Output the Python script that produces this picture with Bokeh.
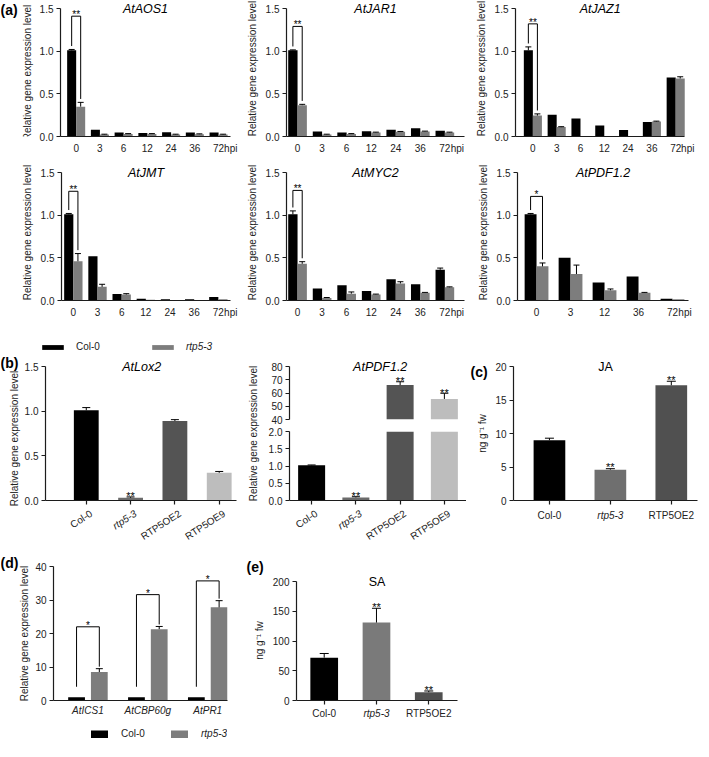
import math
import numpy as np
from bokeh.plotting import figure
from bokeh.layouts import row, column
from bokeh.models import (Range1d, FixedTicker, PrintfTickFormatter, Label, LabelSet,
                          ColumnDataSource, Whisker, TeeHead, Legend, LegendItem)
from bokeh.core.properties import value, field
from bokeh.embed import file_html
from bokeh.resources import INLINE

FONT = "Liberation Sans"
INK = "#1c1c1c"
TXT = "#222222"
BLACK = "#000000"
GRAY_A = "#7d7d7d"

# ---------------- data ----------------
hpi7 = ["0", "3", "6", "12", "24", "36", "72"]
hpi5 = ["0", "3", "12", "36", "72"]

aos1_col = [1.01, 0.078, 0.047, 0.040, 0.050, 0.047, 0.047]
aos1_rtp = [0.35, 0.023, 0.030, 0.030, 0.023, 0.027, 0.023]
aos1_col_err = [0.01, 0, 0, 0, 0, 0, 0]
aos1_rtp_err = [0.05, 0.004, 0.004, 0.004, 0.004, 0.004, 0.004]

jar1_col = [1.01, 0.059, 0.047, 0.062, 0.078, 0.098, 0.066]
jar1_rtp = [0.367, 0.023, 0.030, 0.047, 0.055, 0.059, 0.047]
jar1_col_err = [0.005, 0, 0, 0, 0, 0, 0]
jar1_rtp_err = [0.01, 0.004, 0.004, 0.004, 0.004, 0.004, 0.004]

jaz1_col = [1.01, 0.255, 0.21, 0.13, 0.075, 0.17, 0.69]
jaz1_rtp = [0.245, 0.11, 0.0, 0.0, 0.0, 0.175, 0.68]
jaz1_col_err = [0.04, 0, 0, 0, 0, 0, 0]
jaz1_rtp_err = [0.02, 0.005, 0, 0, 0, 0.005, 0.02]

jmt_col = [1.01, 0.52, 0.075, 0.02, 0.015, 0.015, 0.04]
jmt_rtp = [0.46, 0.16, 0.07, 0.01, 0.005, 0.005, 0.015]
jmt_col_err = [0.01, 0, 0, 0, 0, 0, 0]
jmt_rtp_err = [0.09, 0.03, 0.01, 0, 0, 0, 0]

myc2_col = [1.01, 0.14, 0.18, 0.11, 0.25, 0.19, 0.36]
myc2_rtp = [0.43, 0.03, 0.08, 0.07, 0.20, 0.09, 0.155]
myc2_col_err = [0.04, 0, 0, 0, 0, 0, 0.02]
myc2_rtp_err = [0.025, 0.005, 0.02, 0.005, 0.02, 0.005, 0.005]

pdfa_col = [1.01, 0.50, 0.21, 0.28, 0.02]
pdfa_rtp = [0.40, 0.31, 0.12, 0.09, 0.015]
pdfa_col_err = [0.01, 0, 0, 0, 0]
pdfa_rtp_err = [0.04, 0.105, 0.015, 0.005, 0]

geno4 = ["Col-0", "rtp5-3", "RTP5OE2", "RTP5OE9"]
geno4_style = ["normal", "italic", "normal", "normal"]
geno4_colors = ["#000000", "#6b6b6b", "#545454", "#bdbdbd"]
lox2_vals = [1.01, 0.03, 0.89, 0.31]
lox2_err = [0.03, 0.01, 0.015, 0.015]
lox2_sig = ["", "**", "", ""]
pdfb_vals = [1.02, 0.09, 66.0, 55.5]
pdfb_err = [0.01, 0.02, 2.5, 4.3]
pdfb_sig = ["", "**", "**", "**"]

geno3 = ["Col-0", "rtp5-3", "RTP5OE2"]
geno3_style = ["normal", "italic", "normal"]
ja_colors = ["#000000", "#6f6f6f", "#505050"]
ja_vals = [9.0, 4.6, 17.2]
ja_err = [0.3, 0.15, 0.6]
ja_sig = ["", "**", "**"]

sa_genes = ["AtICS1", "AtCBP60g", "AtPR1"]
sa_col = [1.0, 1.0, 1.0]
sa_rtp = [8.5, 21.3, 27.8]
sa_col_err = [0.1, 0.1, 0.1]
sa_rtp_err = [1.0, 0.8, 2.0]
sa_bracket = [22.0, 31.6, 35.7]

sa_colors = ["#000000", "#7a7a7a", "#505050"]
sa_vals = [72.0, 131.0, 14.0]
sa_err = [7.0, 24.0, 2.0]
sa_sig = ["", "**", "**"]

YLAB = "Relative gene expression level"
NGLAB = "ng g\u207b\u00b9 fw"
EXT = 8  # px of frame kept above the top tick for the panel titles


# ---------------- helpers ----------------
def base_fig(w, h, xr, yr, bl, br, bt, bb, x_axis=True):
    kw = {}
    if not x_axis:
        kw["x_axis_location"] = None
    xr_obj = xr if isinstance(xr, Range1d) else Range1d(*xr)
    p = figure(width=w, height=h, x_range=xr_obj, y_range=Range1d(*yr),
               output_backend="svg", toolbar_location=None, tools="",
               min_border_left=bl, min_border_right=br, min_border_top=bt,
               min_border_bottom=bb, **kw)
    p.outline_line_color = None
    p.grid.visible = False
    for ax in p.axis:
        ax.axis_line_color = INK
        ax.axis_line_width = 1.2
        ax.major_tick_line_color = INK
        ax.major_tick_line_width = 1.2
        ax.minor_tick_line_color = None
        ax.major_tick_in = 0
        ax.major_tick_out = 4
        ax.major_label_standoff = 3
        ax.major_label_text_font = FONT
        ax.major_label_text_font_size = "10px"
        ax.major_label_text_color = TXT
        ax.axis_label_text_font = FONT
        ax.axis_label_text_font_size = "10px"
        ax.axis_label_text_font_style = "normal"
        ax.axis_label_text_color = TXT
        ax.axis_label_standoff = 5
    return p


def blank_fig(w, h, xr=None, yr=None, bl=0, br=0):
    p = figure(width=w, height=h,
               x_range=xr if xr is not None else Range1d(0, w),
               y_range=yr if yr is not None else Range1d(0, h),
               output_backend="svg", toolbar_location=None, tools="",
               x_axis_location=None, y_axis_location=None,
               min_border_left=bl, min_border_right=br, min_border_top=0, min_border_bottom=0)
    p.outline_line_color = None
    p.grid.visible = False
    return p


def strip(w, h, letter=None, lxy=(0, 0), ylab=None, yxy=(0, 0)):
    s = blank_fig(w, h)
    if letter:
        s.add_layout(Label(x=lxy[0], y=lxy[1], x_units="canvas", y_units="canvas", text=letter,
                           text_align="left", text_baseline="top", text_font=FONT,
                           text_font_size="14px", text_font_style="bold", text_color=BLACK))
    if ylab:
        s.add_layout(Label(x=yxy[0], y=yxy[1], x_units="canvas", y_units="canvas", text=ylab,
                           angle=math.pi / 2, text_align="center", text_baseline="middle",
                           text_font=FONT, text_font_size="10px", text_color=TXT))
    return s


def add_err(p, xs, tops, errs, color=BLACK, size=6):
    sel = [i for i, e in enumerate(errs) if e > 0]
    if not sel:
        return
    src = ColumnDataSource(dict(x=[float(xs[i]) for i in sel],
                                lo=[tops[i] for i in sel],
                                hi=[tops[i] + errs[i] for i in sel]))
    w = Whisker(source=src, base="x", lower="lo", upper="hi", line_color=color,
                line_width=1, upper_head=TeeHead(size=size, line_color=color, line_width=1),
                lower_head=None, level="glyph")
    p.add_layout(w)


def stars(p, xs, ys, txts, size="11px", baseline="alphabetic"):
    if not len(xs):
        return
    p.text(x=list(xs), y=list(ys), text=list(txts), text_align="center", text_baseline=baseline,
           text_font=value(FONT), text_font_size=value(size), text_color=BLACK)


def title(p, x, y, txt, italic=True, size="12.5px"):
    p.add_layout(Label(x=x, y=y, text=txt, text_align="center", text_baseline="middle",
                       text_font=FONT, text_font_size=size,
                       text_font_style="italic" if italic else "normal", text_color=BLACK))


def yaxis_setup(p, ticks, fmt="%.1f"):
    p.yaxis.ticker = FixedTicker(ticks=ticks)
    p.yaxis.formatter = PrintfTickFormatter(format=fmt)
    p.yaxis.bounds = (ticks[0], ticks[-1])


def ext_top(lo, hi, fh):
    return hi + (hi - lo) * EXT / fh


def hide_xlabels(p, n):
    p.xaxis.ticker = FixedTicker(ticks=list(range(n)))
    p.xaxis.major_label_overrides = {i: "" for i in range(n)}
    p.xaxis.major_label_text_font_size = "0px"
    p.xaxis.major_label_standoff = 0


def label_strip(w, h, xr, bl, br, cats, styles, ypx, angle=0.0, align="center",
                baseline="top", xoff=0):
    s = blank_fig(w, h, xr=xr, yr=Range1d(0, h), bl=bl, br=br)
    src = ColumnDataSource(dict(x=list(range(len(cats))), y=[h - ypx] * len(cats),
                                text=cats, style=styles))
    s.add_layout(LabelSet(source=src, x="x", y="y", text="text",
                          text_font_style=field("style"), x_offset=xoff, angle=angle,
                          text_align=align, text_baseline=baseline, text_font=value(FONT),
                          text_font_size=value("10px"), text_color=TXT))
    return s


def panel_a(gene, cats, col, rtp, col_err, rtp_err, bracket, star, w, h, bl, br, bt,
            xr, bw=0.38, ylabel=True):
    fh = 128
    n = len(cats)
    ppu = (w - bl - br) / (xr[1] - xr[0])
    hpi_x = round(n - 1 + 12.5 / ppu, 3)
    xhi = max(xr[1], hpi_x + 0.03)
    p = base_fig(w, h, (xr[0], xhi), (0, ext_top(0, 1.5, fh)), bl, br, bt - EXT, h - bt - fh)
    xs = np.arange(n, dtype=float)
    xc = xs - bw / 2
    xg = xs + bw / 2
    p.vbar(x=xc, top=col, width=bw, fill_color=BLACK, line_color=None)
    p.vbar(x=xg, top=rtp, width=bw, fill_color=GRAY_A, line_color=None)
    add_err(p, xc, col, col_err)
    add_err(p, xg, rtp, rtp_err)
    gap = 0.04
    yl = col[0] + col_err[0] + gap
    yr_ = rtp[0] + rtp_err[0] + gap
    p.line(x=[xc[0], xc[0], xg[0], xg[0]], y=[yl, bracket, bracket, yr_],
           line_color=BLACK, line_width=1)
    stars(p, [xs[0]], [bracket + 0.02], [star], size="10px", baseline="middle")
    yaxis_setup(p, [0, 0.5, 1.0, 1.5])
    if ylabel:
        p.yaxis.axis_label = YLAB
    ticks = list(range(n)) + [hpi_x]
    p.xaxis.ticker = FixedTicker(ticks=ticks)
    ov = {i: c for i, c in enumerate(cats)}
    ov[hpi_x] = "hpi"
    p.xaxis.major_label_overrides = ov
    p.xaxis.major_tick_out = 0
    p.xaxis.major_label_standoff = 6
    p.xaxis.bounds = (xr[0], xr[1])
    title(p, (xr[0] + xr[1]) / 2, 1.5, gene)
    return p


# ---------------- (a) ----------------
strip_a = strip(36, 160, "(a)", (0, 1), YLAB, (27, 72))
f_aos = panel_a("AtAOS1", hpi7, aos1_col, aos1_rtp, aos1_col_err, aos1_rtp_err, 1.41, "**",
                204, 160, 21, 9, 8, (-0.66, 6.5), ylabel=False)
f_jar = panel_a("AtJAR1", hpi7, jar1_col, jar1_rtp, jar1_col_err, jar1_rtp_err, 1.29, "**",
                232, 160, 46, 8, 8, (-0.45, 6.8))
f_jaz = panel_a("AtJAZ1", hpi7, jaz1_col, jaz1_rtp, jaz1_col_err, jaz1_rtp_err, 1.32, "**",
                227, 160, 41, 11, 8, (-0.73, 6.38))
f_jmt = panel_a("AtJMT", hpi7, jmt_col, jmt_rtp, jmt_col_err, jmt_rtp_err, 1.28, "**",
                240, 160, 61, 9, 12, (-0.49, 6.5))
f_myc = panel_a("AtMYC2", hpi7, myc2_col, myc2_rtp, myc2_col_err, myc2_rtp_err, 1.29, "**",
                232, 160, 46, 8, 12, (-0.45, 6.8))
f_pdfa = panel_a("AtPDF1.2", hpi5, pdfa_col, pdfa_rtp, pdfa_col_err, pdfa_rtp_err, 1.22, "*",
                 227, 160, 45, 11, 12, (-0.56, 4.47), bw=0.35)


def legend_box(p, rr, lab, sty, loc, gw, gh, standoff):
    lg = Legend(items=[LegendItem(label=lab, renderers=[rr])], location=loc,
                orientation="horizontal", glyph_width=gw, glyph_height=gh, label_height=10,
                label_standoff=standoff, padding=0, margin=0, border_line_color=None,
                background_fill_alpha=0, inactive_fill_alpha=0, label_text_font=FONT,
                label_text_font_size="10px", label_text_font_style=sty,
                label_text_color=TXT)
    p.add_layout(lg, "center")


# ---------------- legend row ----------------
f_leg = blank_fig(699, 32)
r_c = f_leg.vbar(x=[0], top=[0], width=1, fill_color=BLACK, line_color=None, visible=False)
r_r = f_leg.vbar(x=[0], top=[0], width=1, fill_color=GRAY_A, line_color=None, visible=False)
legend_box(f_leg, r_c, "Col-0", "normal", (39, 0), 27, 6, 10)
legend_box(f_leg, r_r, "rtp5-3", "italic", (149, 0), 27, 6, 10)

# ---------------- (b) AtLox2 ----------------
x4 = list(range(4))
strip_b = strip(21, 190, "(b)", (0, 2), YLAB, (14, 86))
lox_xr = Range1d(-0.92, 3.39)
f_lox = base_fig(219, 154, lox_xr, (0, ext_top(0, 1.5, 134)), 21, 4, 6, 6)
f_lox.vbar(x=x4, top=lox2_vals, width=0.56, fill_color=geno4_colors, line_color=None)
add_err(f_lox, x4, lox2_vals, lox2_err, size=8)
sx = [i for i in x4 if lox2_sig[i]]
stars(f_lox, sx, [lox2_vals[i] + lox2_err[i] + 0.01 for i in sx], [lox2_sig[i] for i in sx])
yaxis_setup(f_lox, [0, 0.5, 1.0, 1.5])
hide_xlabels(f_lox, 4)
title(f_lox, 1.25, 1.5, "AtLox2")
lox_lab = label_strip(219, 36, lox_xr, 21, 4, geno4, geno4_style, 6,
                      angle=math.radians(33), align="right", baseline="middle", xoff=5)

# ---------------- (b) AtPDF1.2 broken axis ----------------
strip_pdf = strip(25, 190, None, (0, 0), YLAB, (13, 81))
pdf_xr = Range1d(-0.5, 3.5)
pdf_top = base_fig(201, 73, pdf_xr, (40, ext_top(40, 80, 53)), 21, 0, 6, 6, x_axis=False)
pdf_bot = base_fig(201, 81, pdf_xr, (0, 2), 21, 0, 6, 6)
hi = [i for i in x4 if pdfb_vals[i] >= 40]
lo = [i for i in x4 if pdfb_vals[i] < 2]
pdf_top.vbar(x=[x4[i] for i in hi], top=[pdfb_vals[i] for i in hi], width=0.61,
             fill_color=[geno4_colors[i] for i in hi], line_color=None)
pdf_bot.vbar(x=x4, top=pdfb_vals, width=0.61, fill_color=geno4_colors, line_color=None)
add_err(pdf_top, [x4[i] for i in hi], [pdfb_vals[i] for i in hi], [pdfb_err[i] for i in hi], size=8)
add_err(pdf_bot, [x4[i] for i in lo], [pdfb_vals[i] for i in lo], [pdfb_err[i] for i in lo], size=8)
sh = [i for i in hi if pdfb_sig[i]]
sl = [i for i in lo if pdfb_sig[i]]
stars(pdf_top, sh, [pdfb_vals[i] + pdfb_err[i] + 0.3 for i in sh], [pdfb_sig[i] for i in sh])
stars(pdf_bot, sl, [pdfb_vals[i] + pdfb_err[i] + 0.01 for i in sl], [pdfb_sig[i] for i in sl])
yaxis_setup(pdf_top, [40, 50, 60, 70, 80], fmt="%d")
yaxis_setup(pdf_bot, [0, 0.5, 1.0, 1.5, 2.0])
hide_xlabels(pdf_bot, 4)
title(pdf_top, 1.55, 80, "AtPDF1.2")
pdf_lab = label_strip(201, 36, pdf_xr, 21, 0, geno4, geno4_style, 6,
                      angle=math.radians(33), align="right", baseline="middle", xoff=5)

# ---------------- (c) JA ----------------
x3 = list(range(3))
strip_c = strip(26, 190, "(c)", (4, 11), NGLAB, (16, 81))
ja_xr = Range1d(-0.59, 2.43)
f_ja = base_fig(207, 154, ja_xr, (0, ext_top(0, 20, 134)), 21, 2, 6, 6)
f_ja.vbar(x=x3, top=ja_vals, width=0.52, fill_color=ja_colors, line_color=None)
add_err(f_ja, x3, ja_vals, ja_err, size=9)
sx = [i for i in x3 if ja_sig[i]]
stars(f_ja, sx, [ja_vals[i] + ja_err[i] + 0.2 for i in sx], [ja_sig[i] for i in sx])
yaxis_setup(f_ja, [0, 5, 10, 15, 20], fmt="%d")
hide_xlabels(f_ja, 3)
title(f_ja, 0.92, 20, "JA", italic=False)
ja_lab = label_strip(207, 36, ja_xr, 21, 2, geno3, geno3_style, 3)

# ---------------- (d) SA genes ----------------
strip_d = strip(32, 199, "(d)", (0, 12), YLAB, (24, 91))
f_d = base_fig(208, 176, (-0.575, 2.33), (0, ext_top(0, 40, 134)), 21, 13, 16, 18)
bwd = 0.28
xs3 = np.arange(3, dtype=float)
xdc = xs3 - 0.19
xdr = xs3 + 0.19
f_d.vbar(x=xdc, top=sa_col, width=bwd, fill_color=BLACK, line_color=None)
f_d.vbar(x=xdr, top=sa_rtp, width=bwd, fill_color=GRAY_A, line_color=None)
add_err(f_d, xdr, sa_rtp, sa_rtp_err, size=7)
for i in range(3):
    f_d.line(x=[xdc[i], xdc[i], xdr[i], xdr[i]],
             y=[sa_col[i] + sa_col_err[i] + 3.0, sa_bracket[i], sa_bracket[i],
                sa_rtp[i] + sa_rtp_err[i] + 0.6],
             line_color=BLACK, line_width=1)
stars(f_d, list(xs3), [b + 0.4 for b in sa_bracket], ["*"] * 3, size="10px", baseline="middle")
yaxis_setup(f_d, [0, 10, 20, 30, 40], fmt="%d")
f_d.xaxis.ticker = FixedTicker(ticks=[0, 1, 2])
f_d.xaxis.major_label_overrides = {i: g for i, g in enumerate(sa_genes)}
f_d.xaxis.major_label_text_font_style = "italic"
f_d.xaxis.major_tick_out = 0
f_d.xaxis.major_label_standoff = 4
leg_d = blank_fig(208, 23)
r_dc = leg_d.line(x=[0, 1], y=[0, 0], line_color=BLACK, line_width=8, line_cap="round", visible=False)
r_dr = leg_d.line(x=[0, 1], y=[0, 0], line_color=GRAY_A, line_width=8, line_cap="round", visible=False)
legend_box(leg_d, r_dc, "Col-0", "normal", (38, 2), 17, 8, 13)
legend_box(leg_d, r_dr, "rtp5-3", "italic", (118, 2), 17, 8, 13)

# ---------------- (e) SA ----------------
strip_e = strip(29, 199, "(e)", (6, 16), NGLAB, (19, 98))
e_xr = Range1d(-0.53, 2.55)
f_e = base_fig(201, 165, e_xr, (0, ext_top(0, 200, 119)), 25, 13, 31, 7)
f_e.vbar(x=x3, top=sa_vals, width=0.53, fill_color=sa_colors, line_color=None)
add_err(f_e, x3, sa_vals, sa_err, size=9)
sx = [i for i in x3 if sa_sig[i]]
stars(f_e, sx, [sa_vals[i] + sa_err[i] + 2 for i in sx], [sa_sig[i] for i in sx])
yaxis_setup(f_e, [0, 50, 100, 150, 200], fmt="%d")
hide_xlabels(f_e, 3)
title(f_e, 1.01, 200, "SA", italic=False)
e_lab = label_strip(201, 34, e_xr, 25, 13, geno3, geno3_style, 0)

layout = column(
    row(strip_a, f_aos, f_jar, f_jaz),
    row(f_jmt, f_myc, f_pdfa),
    f_leg,
    row(strip_b, column(f_lox, lox_lab), strip_pdf, column(pdf_top, pdf_bot, pdf_lab),
        strip_c, column(f_ja, ja_lab)),
    row(strip_d, column(f_d, leg_d), strip_e, column(f_e, e_lab)),
)

with open("out.html", "w") as fh:
    fh.write(file_html(layout, INLINE))
